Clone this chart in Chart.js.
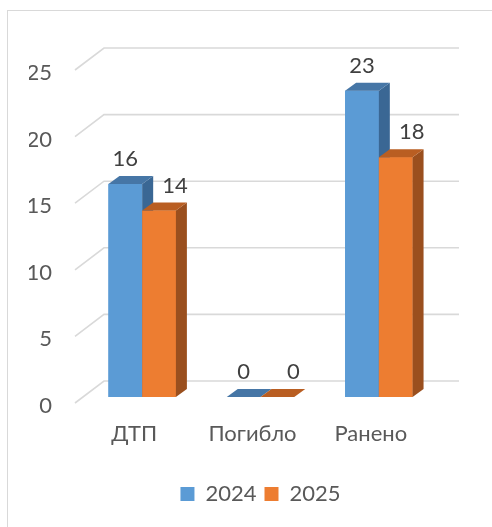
<!DOCTYPE html>
<html><head><meta charset="utf-8">
<script src="https://cdn.jsdelivr.net/npm/chart.js@4"></script>
<style>html,body{margin:0;padding:0;background:#fff}#wrap{width:492px;height:527px;position:relative}</style>
</head><body><div id="wrap"><canvas id="c"></canvas></div>
<script>
const categories = ['ДТП', 'Погибло', 'Ранено'];
const seriesNames = ['2024', '2025'];
const values2024 = [16, 0, 23];
const values2025 = [14, 0, 18];
const yTicks = [0, 5, 10, 15, 20, 25];

const FONT = 'Lato';
const FSIZE = 22;
const TEXT = '#595959';
const VALTEXT = '#404040';
const GRID = '#D9D9D9';
const FRONT = ['#5B9BD5', '#ED7D31'];
const TOP = ['#4676A6', '#B95E22'];
const SIDE = ['#3A6794', '#9A4F1E'];
const DX = 11, DY = 8;
const BACK_DX = 21, BACK_DY = 16;
const FRONT_DX = 8, FRONT_DY = 6;
const LABEL_DX = [0, 16];

function poly(ctx, pts) {
  ctx.beginPath();
  ctx.moveTo(pts[0][0], pts[0][1]);
  for (let i = 1; i < pts.length; i++) ctx.lineTo(pts[i][0], pts[i][1]);
  ctx.closePath();
  ctx.fill();
}

const framePlugin = {
  id: 'frame',
  beforeDraw(chart) {
    const c = chart.ctx;
    c.save();
    c.strokeStyle = GRID; c.lineWidth = 1;
    c.strokeRect(7.5, 10.5, 1000, 1000);
    c.restore();
  }
};

const grid3d = {
  id: 'grid3d',
  beforeDatasetsDraw(chart) {
    const { ctx, chartArea: a, scales: { y } } = chart;
    ctx.save();
    ctx.strokeStyle = GRID; ctx.lineWidth = 1.6;
    yTicks.forEach(v => {
      const py = y.getPixelForValue(v);
      ctx.beginPath();
      ctx.moveTo(a.left - FRONT_DX, py + FRONT_DY);
      ctx.lineTo(a.left + BACK_DX, py - BACK_DY);
      ctx.lineTo(a.right + BACK_DX, py - BACK_DY);
      ctx.stroke();
    });
    ctx.restore();
  }
};

const bars3d = {
  id: 'bars3d',
  afterDatasetsDraw(chart) {
    const ctx = chart.ctx;
    const metas = [0, 1].map(i => chart.getDatasetMeta(i));
    ctx.save();
    for (let j = 0; j < categories.length; j++) {
      metas.forEach((m, i) => {
        const el = m.data[j];
        const { x, y, base, width } = el.getProps(['x', 'y', 'base', 'width'], true);
        const l = x - width / 2, r = x + width / 2;
        if (base - y > 0.5) {
          ctx.fillStyle = FRONT[i];
          ctx.fillRect(l, y, width, base - y);
          ctx.fillStyle = SIDE[i];
          poly(ctx, [[r, y], [r + DX, y - DY], [r + DX, base - DY], [r, base]]);
        }
        ctx.fillStyle = TOP[i];
        poly(ctx, [[l, y], [r, y], [r + DX, y - DY], [l + DX, y - DY]]);
      });
    }
    ctx.fillStyle = VALTEXT;
    ctx.font = FSIZE + 'px ' + FONT;
    ctx.textAlign = 'center';
    ctx.textBaseline = 'middle';
    metas.forEach((m, i) => {
      const vals = chart.data.datasets[i].data;
      m.data.forEach((el, j) => {
        const { x, y } = el.getProps(['x', 'y'], true);
        ctx.fillText(String(vals[j]), x + LABEL_DX[i], y - 25);
      });
    });
    ctx.restore();
  }
};

new Chart(document.getElementById('c'), {
  type: 'bar',
  data: {
    labels: categories,
    datasets: [
      { label: seriesNames[0], data: values2024, backgroundColor: FRONT[0], borderWidth: 0 },
      { label: seriesNames[1], data: values2025, backgroundColor: FRONT[1], borderWidth: 0 }
    ]
  },
  options: {
    responsive: true,
    maintainAspectRatio: false,
    animation: false,
    events: [],
    layout: { padding: { left: 29, right: 54, top: 64, bottom: 12 } },
    datasets: { bar: { categoryPercentage: 0.57, barPercentage: 1 } },
    scales: {
      x: {
        grid: { display: false, drawTicks: false },
        border: { display: false },
        ticks: { font: { family: FONT, size: FSIZE }, color: TEXT, padding: 24, labelOffset: -8 },
        afterFit(s) { s.height = 78; }
      },
      y: {
        min: 0, max: 25,
        grid: { display: false, drawTicks: false },
        border: { display: false },
        ticks: { stepSize: 5, font: { family: FONT, size: FSIZE }, color: TEXT, padding: 31, labelOffset: 9 },
        afterFit(s) { s.width = 54; }
      }
    },
    plugins: {
      legend: {
        position: 'bottom',
        fullSize: false,
        labels: { font: { family: FONT, size: FSIZE }, color: TEXT, boxWidth: 14, boxHeight: 14, padding: 8 }
      },
      tooltip: { enabled: false }
    }
  },
  plugins: [framePlugin, grid3d, bars3d]
});
</script>
</body></html>
